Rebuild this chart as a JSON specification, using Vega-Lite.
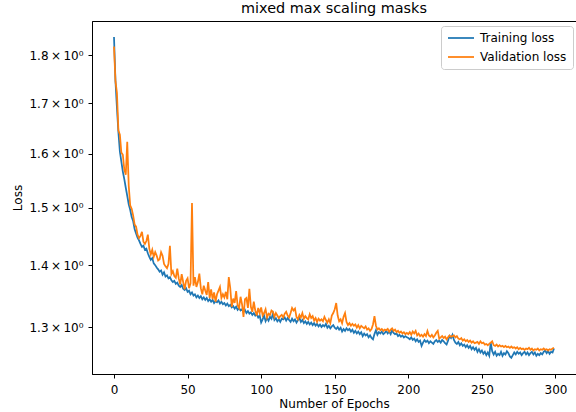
{
"$schema":"https://vega.github.io/schema/vega-lite/v6.json",
"autosize":{"type":"none"},
"padding":{"left":92,"top":21,"right":0,"bottom":38},
"width":484,"height":353,
"background":"white",
"title":{"text":"mixed max scaling masks","font":"DejaVu Sans","fontSize":14.4,"fontWeight":"normal","color":"black","offset":5},
"data":{"values":[
{"e":0,"t":1.840,"v":1.819},{"e":1,"t":1.745,"v":1.745},{"e":2,"t":1.690,"v":1.721},{"e":3,"t":1.641,"v":1.645},{"e":4,"t":1.604,"v":1.637},{"e":5,"t":1.585,"v":1.602},{"e":6,"t":1.566,"v":1.598},{"e":7,"t":1.552,"v":1.570},{"e":8,"t":1.536,"v":1.560},{"e":9,"t":1.521,"v":1.623},
{"e":10,"t":1.506,"v":1.540},{"e":11,"t":1.496,"v":1.504},{"e":12,"t":1.483,"v":1.498},{"e":13,"t":1.476,"v":1.486},{"e":14,"t":1.462,"v":1.470},{"e":15,"t":1.454,"v":1.466},{"e":16,"t":1.447,"v":1.452},{"e":17,"t":1.442,"v":1.446},{"e":18,"t":1.436,"v":1.450},{"e":19,"t":1.431,"v":1.457},
{"e":20,"t":1.433,"v":1.440},{"e":21,"t":1.426,"v":1.436},{"e":22,"t":1.428,"v":1.441},{"e":23,"t":1.420,"v":1.452},{"e":24,"t":1.414,"v":1.428},{"e":25,"t":1.409,"v":1.418},{"e":26,"t":1.412,"v":1.426},{"e":27,"t":1.403,"v":1.414},{"e":28,"t":1.400,"v":1.422},{"e":29,"t":1.396,"v":1.416},
{"e":30,"t":1.393,"v":1.408},{"e":31,"t":1.389,"v":1.410},{"e":32,"t":1.391,"v":1.422},{"e":33,"t":1.384,"v":1.416},{"e":34,"t":1.388,"v":1.402},{"e":35,"t":1.381,"v":1.398},{"e":36,"t":1.383,"v":1.395},{"e":37,"t":1.378,"v":1.402},{"e":38,"t":1.380,"v":1.433},{"e":39,"t":1.375,"v":1.385},
{"e":40,"t":1.372,"v":1.390},{"e":41,"t":1.374,"v":1.382},{"e":42,"t":1.369,"v":1.379},{"e":43,"t":1.371,"v":1.394},{"e":44,"t":1.366,"v":1.378},{"e":45,"t":1.364,"v":1.368},{"e":46,"t":1.367,"v":1.385},{"e":47,"t":1.361,"v":1.372},{"e":48,"t":1.359,"v":1.360},{"e":49,"t":1.362,"v":1.374},
{"e":50,"t":1.356,"v":1.378},{"e":51,"t":1.358,"v":1.362},{"e":52,"t":1.352,"v":1.370},{"e":53,"t":1.355,"v":1.508},{"e":54,"t":1.350,"v":1.366},{"e":55,"t":1.352,"v":1.380},{"e":56,"t":1.347,"v":1.364},{"e":57,"t":1.350,"v":1.372},{"e":58,"t":1.346,"v":1.386},{"e":59,"t":1.349,"v":1.362},
{"e":60,"t":1.344,"v":1.352},{"e":61,"t":1.347,"v":1.366},{"e":62,"t":1.343,"v":1.358},{"e":63,"t":1.346,"v":1.351},{"e":64,"t":1.341,"v":1.372},{"e":65,"t":1.344,"v":1.346},{"e":66,"t":1.340,"v":1.360},{"e":67,"t":1.343,"v":1.344},{"e":68,"t":1.338,"v":1.355},{"e":69,"t":1.341,"v":1.340},
{"e":70,"t":1.339,"v":1.352},{"e":71,"t":1.342,"v":1.358},{"e":72,"t":1.337,"v":1.364},{"e":73,"t":1.340,"v":1.346},{"e":74,"t":1.336,"v":1.352},{"e":75,"t":1.338,"v":1.347},{"e":76,"t":1.334,"v":1.356},{"e":77,"t":1.337,"v":1.344},{"e":78,"t":1.333,"v":1.380},{"e":79,"t":1.335,"v":1.362},
{"e":80,"t":1.331,"v":1.332},{"e":81,"t":1.333,"v":1.345},{"e":82,"t":1.329,"v":1.338},{"e":83,"t":1.332,"v":1.357},{"e":84,"t":1.327,"v":1.334},{"e":85,"t":1.330,"v":1.330},{"e":86,"t":1.326,"v":1.348},{"e":87,"t":1.328,"v":1.336},{"e":88,"t":1.324,"v":1.316},{"e":89,"t":1.327,"v":1.344},
{"e":90,"t":1.322,"v":1.346},{"e":91,"t":1.325,"v":1.330},{"e":92,"t":1.321,"v":1.361},{"e":93,"t":1.323,"v":1.332},{"e":94,"t":1.319,"v":1.324},{"e":95,"t":1.322,"v":1.340},{"e":96,"t":1.318,"v":1.326},{"e":97,"t":1.320,"v":1.318},{"e":98,"t":1.315,"v":1.330},{"e":99,"t":1.318,"v":1.322},
{"e":100,"t":1.307,"v":1.331},{"e":101,"t":1.312,"v":1.318},{"e":102,"t":1.318,"v":1.322},{"e":103,"t":1.309,"v":1.328},{"e":104,"t":1.314,"v":1.315},{"e":105,"t":1.310,"v":1.321},{"e":106,"t":1.316,"v":1.319},{"e":107,"t":1.313,"v":1.326},{"e":108,"t":1.321,"v":1.324},{"e":109,"t":1.311,"v":1.316},
{"e":110,"t":1.314,"v":1.322},{"e":111,"t":1.309,"v":1.318},{"e":112,"t":1.312,"v":1.314},{"e":113,"t":1.308,"v":1.317},{"e":114,"t":1.313,"v":1.319},{"e":115,"t":1.312,"v":1.315},{"e":116,"t":1.315,"v":1.321},{"e":117,"t":1.310,"v":1.324},{"e":118,"t":1.314,"v":1.318},{"e":119,"t":1.311,"v":1.315},
{"e":120,"t":1.308,"v":1.322},{"e":121,"t":1.313,"v":1.330},{"e":122,"t":1.309,"v":1.326},{"e":123,"t":1.312,"v":1.329},{"e":124,"t":1.307,"v":1.316},{"e":125,"t":1.311,"v":1.312},{"e":126,"t":1.314,"v":1.319},{"e":127,"t":1.308,"v":1.315},{"e":128,"t":1.311,"v":1.322},{"e":129,"t":1.306,"v":1.313},
{"e":130,"t":1.309,"v":1.317},{"e":131,"t":1.305,"v":1.314},{"e":132,"t":1.308,"v":1.312},{"e":133,"t":1.304,"v":1.320},{"e":134,"t":1.307,"v":1.314},{"e":135,"t":1.303,"v":1.317},{"e":136,"t":1.306,"v":1.310},{"e":137,"t":1.302,"v":1.314},{"e":138,"t":1.305,"v":1.308},{"e":139,"t":1.301,"v":1.313},
{"e":140,"t":1.304,"v":1.310},{"e":141,"t":1.300,"v":1.312},{"e":142,"t":1.303,"v":1.309},{"e":143,"t":1.301,"v":1.316},{"e":144,"t":1.305,"v":1.311},{"e":145,"t":1.299,"v":1.307},{"e":146,"t":1.302,"v":1.312},{"e":147,"t":1.298,"v":1.306},{"e":148,"t":1.301,"v":1.318},{"e":149,"t":1.303,"v":1.322},
{"e":150,"t":1.299,"v":1.328},{"e":151,"t":1.297,"v":1.338},{"e":152,"t":1.300,"v":1.318},{"e":153,"t":1.296,"v":1.309},{"e":154,"t":1.299,"v":1.312},{"e":155,"t":1.293,"v":1.306},{"e":156,"t":1.297,"v":1.316},{"e":157,"t":1.294,"v":1.322},{"e":158,"t":1.298,"v":1.308},{"e":159,"t":1.295,"v":1.303},
{"e":160,"t":1.297,"v":1.306},{"e":161,"t":1.293,"v":1.302},{"e":162,"t":1.296,"v":1.305},{"e":163,"t":1.291,"v":1.302},{"e":164,"t":1.294,"v":1.304},{"e":165,"t":1.290,"v":1.299},{"e":166,"t":1.293,"v":1.303},{"e":167,"t":1.289,"v":1.298},{"e":168,"t":1.292,"v":1.302},{"e":169,"t":1.286,"v":1.300},
{"e":170,"t":1.290,"v":1.298},{"e":171,"t":1.287,"v":1.301},{"e":172,"t":1.289,"v":1.296},{"e":173,"t":1.284,"v":1.298},{"e":174,"t":1.287,"v":1.294},{"e":175,"t":1.283,"v":1.297},{"e":176,"t":1.281,"v":1.304},{"e":177,"t":1.289,"v":1.317},{"e":178,"t":1.295,"v":1.302},{"e":179,"t":1.288,"v":1.296},
{"e":180,"t":1.292,"v":1.298},{"e":181,"t":1.290,"v":1.295},{"e":182,"t":1.293,"v":1.297},{"e":183,"t":1.289,"v":1.294},{"e":184,"t":1.291,"v":1.296},{"e":185,"t":1.294,"v":1.295},{"e":186,"t":1.290,"v":1.297},{"e":187,"t":1.293,"v":1.293},{"e":188,"t":1.289,"v":1.296},{"e":189,"t":1.295,"v":1.298},
{"e":190,"t":1.291,"v":1.294},{"e":191,"t":1.289,"v":1.296},{"e":192,"t":1.290,"v":1.292},{"e":193,"t":1.286,"v":1.294},{"e":194,"t":1.288,"v":1.291},{"e":195,"t":1.285,"v":1.293},{"e":196,"t":1.287,"v":1.290},{"e":197,"t":1.284,"v":1.292},{"e":198,"t":1.286,"v":1.289},{"e":199,"t":1.284,"v":1.291},
{"e":200,"t":1.283,"v":1.289},{"e":201,"t":1.281,"v":1.292},{"e":202,"t":1.284,"v":1.288},{"e":203,"t":1.280,"v":1.293},{"e":204,"t":1.282,"v":1.290},{"e":205,"t":1.278,"v":1.294},{"e":206,"t":1.281,"v":1.287},{"e":207,"t":1.277,"v":1.290},{"e":208,"t":1.279,"v":1.286},{"e":209,"t":1.271,"v":1.288},
{"e":210,"t":1.276,"v":1.285},{"e":211,"t":1.280,"v":1.289},{"e":212,"t":1.277,"v":1.286},{"e":213,"t":1.279,"v":1.294},{"e":214,"t":1.275,"v":1.287},{"e":215,"t":1.278,"v":1.285},{"e":216,"t":1.276,"v":1.288},{"e":217,"t":1.274,"v":1.284},{"e":218,"t":1.278,"v":1.287},{"e":219,"t":1.280,"v":1.291},
{"e":220,"t":1.277,"v":1.294},{"e":221,"t":1.279,"v":1.282},{"e":222,"t":1.276,"v":1.284},{"e":223,"t":1.280,"v":1.286},{"e":224,"t":1.278,"v":1.283},{"e":225,"t":1.275,"v":1.285},{"e":226,"t":1.273,"v":1.281},{"e":227,"t":1.279,"v":1.284},{"e":228,"t":1.286,"v":1.287},{"e":229,"t":1.283,"v":1.285},
{"e":230,"t":1.288,"v":1.286},{"e":231,"t":1.280,"v":1.287},{"e":232,"t":1.276,"v":1.284},{"e":233,"t":1.274,"v":1.286},{"e":234,"t":1.277,"v":1.282},{"e":235,"t":1.272,"v":1.281},{"e":236,"t":1.275,"v":1.283},{"e":237,"t":1.271,"v":1.279},{"e":238,"t":1.273,"v":1.281},{"e":239,"t":1.269,"v":1.278},
{"e":240,"t":1.272,"v":1.280},{"e":241,"t":1.268,"v":1.277},{"e":242,"t":1.271,"v":1.279},{"e":243,"t":1.266,"v":1.276},{"e":244,"t":1.269,"v":1.278},{"e":245,"t":1.265,"v":1.275},{"e":246,"t":1.268,"v":1.276},{"e":247,"t":1.262,"v":1.277},{"e":248,"t":1.266,"v":1.274},{"e":249,"t":1.261,"v":1.278},
{"e":250,"t":1.264,"v":1.275},{"e":251,"t":1.259,"v":1.276},{"e":252,"t":1.262,"v":1.273},{"e":253,"t":1.257,"v":1.274},{"e":254,"t":1.261,"v":1.272},{"e":255,"t":1.256,"v":1.274},{"e":256,"t":1.276,"v":1.276},{"e":257,"t":1.263,"v":1.278},{"e":258,"t":1.258,"v":1.272},{"e":259,"t":1.262,"v":1.271},
{"e":260,"t":1.256,"v":1.273},{"e":261,"t":1.259,"v":1.270},{"e":262,"t":1.257,"v":1.272},{"e":263,"t":1.262,"v":1.270},{"e":264,"t":1.256,"v":1.271},{"e":265,"t":1.260,"v":1.269},{"e":266,"t":1.258,"v":1.271},{"e":267,"t":1.263,"v":1.269},{"e":268,"t":1.260,"v":1.270},{"e":269,"t":1.255,"v":1.268},
{"e":270,"t":1.253,"v":1.270},{"e":271,"t":1.257,"v":1.268},{"e":272,"t":1.261,"v":1.269},{"e":273,"t":1.258,"v":1.267},{"e":274,"t":1.262,"v":1.269},{"e":275,"t":1.259,"v":1.266},{"e":276,"t":1.261,"v":1.268},{"e":277,"t":1.257,"v":1.266},{"e":278,"t":1.260,"v":1.267},{"e":279,"t":1.262,"v":1.265},
{"e":280,"t":1.258,"v":1.267},{"e":281,"t":1.261,"v":1.266},{"e":282,"t":1.257,"v":1.268},{"e":283,"t":1.260,"v":1.265},{"e":284,"t":1.262,"v":1.267},{"e":285,"t":1.258,"v":1.264},{"e":286,"t":1.261,"v":1.266},{"e":287,"t":1.256,"v":1.265},{"e":288,"t":1.259,"v":1.267},{"e":289,"t":1.257,"v":1.264},
{"e":290,"t":1.260,"v":1.266},{"e":291,"t":1.258,"v":1.265},{"e":292,"t":1.262,"v":1.267},{"e":293,"t":1.264,"v":1.265},{"e":294,"t":1.260,"v":1.266},{"e":295,"t":1.263,"v":1.264},{"e":296,"t":1.259,"v":1.266},{"e":297,"t":1.262,"v":1.265},{"e":298,"t":1.261,"v":1.267},{"e":299,"t":1.267,"v":1.268}
]},
"transform":[{"fold":["t","v"],"as":["key","loss"]}],
"mark":{"type":"line","strokeWidth":1.75,"clip":true},
"encoding":{
"x":{"field":"e","type":"quantitative","scale":{"domain":[-14.95,313.95],"nice":false,"zero":false},
"axis":{"values":[0,50,100,150,200,250,300],"title":"Number of Epochs","labelPadding":6,"titlePadding":3}},
"y":{"field":"loss","type":"quantitative","scale":{"type":"log","domain":[1.2289,1.8755],"nice":false,"zero":false},
"axis":{"values":[1.3,1.4,1.5,1.6,1.7,1.8],"labelExpr":"format(datum.value,'.1f') + '\u2009×\u200910⁰'","title":"Loss","labelPadding":5,"titlePadding":4}},
"color":{"field":"key","type":"nominal","scale":{"domain":["t","v"],"range":["#1f77b4","#ff7f0e"]},
"legend":{"title":null,"orient":"none","legendX":349,"legendY":5,"labelExpr":"datum.value == 't' ? 'Training loss' : 'Validation loss'",
"symbolType":"M-1,0H4.2","symbolSize":100,"symbolStrokeWidth":1.75,"labelFontSize":12,"labelFont":"DejaVu Sans","labelColor":"black","labelOffset":21,"padding":6,"rowPadding":7,"strokeColor":"#cccccc","fillColor":"white","cornerRadius":3}}
},
"config":{
"view":{"stroke":"black","strokeWidth":1},
"axis":{"grid":false,"labelFont":"DejaVu Sans","titleFont":"DejaVu Sans","labelFontSize":12,"titleFontSize":12,"titleFontWeight":"normal","labelColor":"black","titleColor":"black","tickColor":"black","domainColor":"black","tickSize":4,"domainWidth":1,"tickWidth":1}
}
}
